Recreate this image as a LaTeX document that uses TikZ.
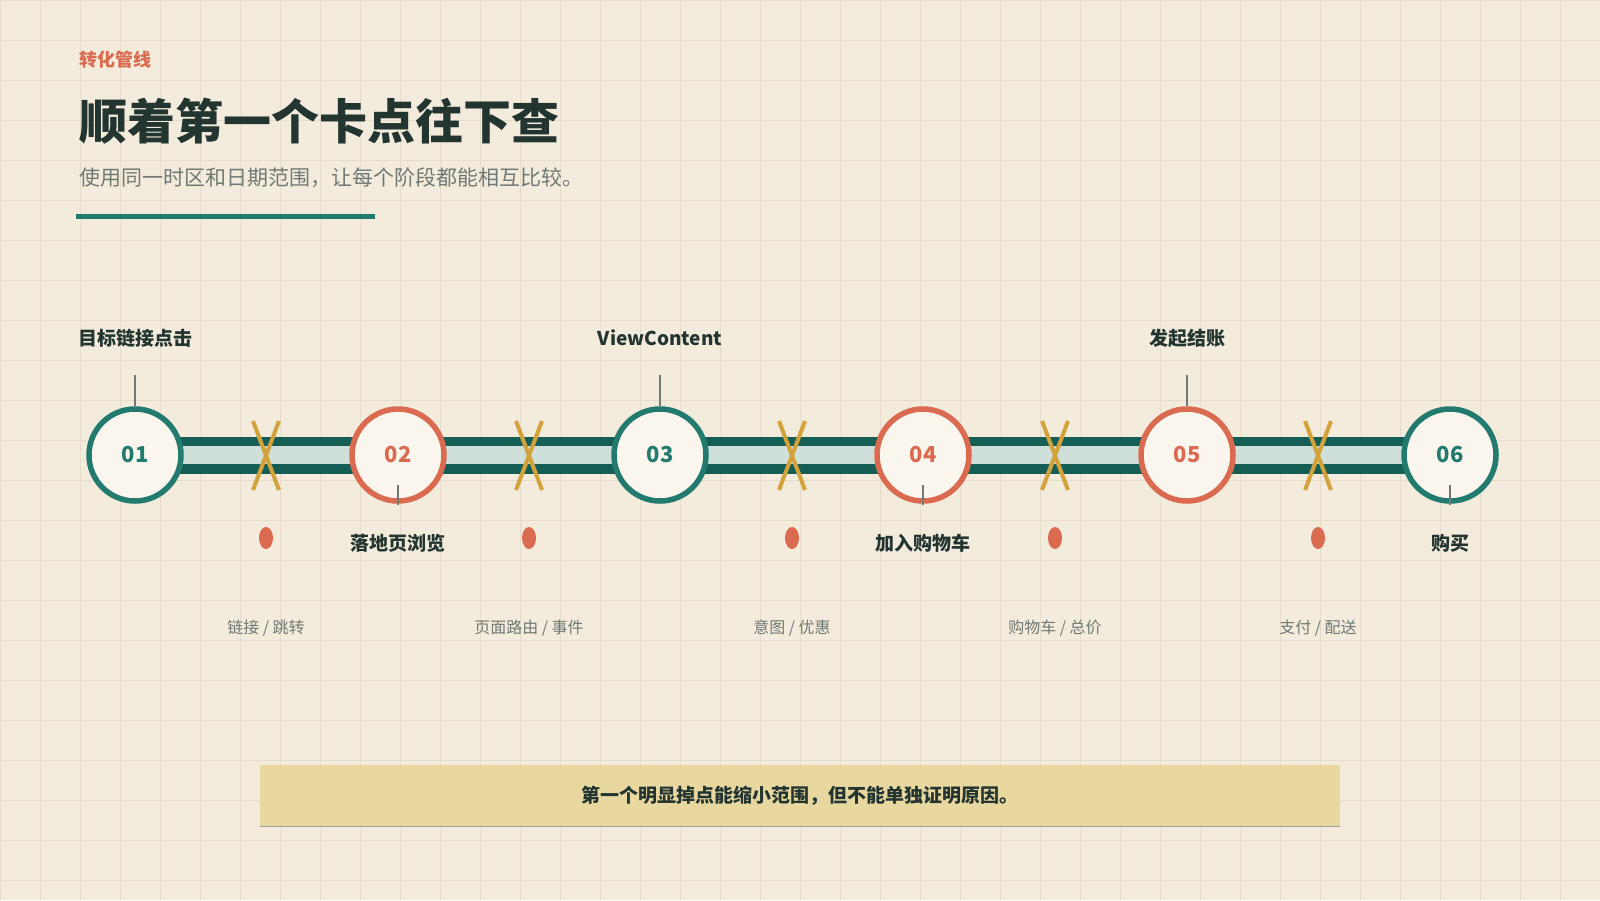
\documentclass[tikz,border=0pt]{standalone}
\usepackage{fontspec}
\setmainfont{Noto Sans CJK SC}
\definecolor{bg}{HTML}{F3EBDC}
\definecolor{gridc}{HTML}{E5DCCB}
\definecolor{teal}{HTML}{237A6E}
\definecolor{dteal}{HTML}{145E55}
\definecolor{lteal}{HTML}{CFE0DA}
\definecolor{oran}{HTML}{DB6B50}
\definecolor{gold}{HTML}{D4A23A}
\definecolor{cfill}{HTML}{FAF6EE}
\definecolor{boxc}{HTML}{E9D7A0}
\definecolor{dtext}{HTML}{233530}
\definecolor{gtext}{HTML}{6F7A75}
\begin{document}
\begin{tikzpicture}[x=1pt,y=-1pt,
  stage/.style={circle,draw=#1,line width=5.5pt,fill=cfill,minimum size=92pt,inner sep=0pt,text=#1,font=\fontsize{22}{22}\selectfont\bfseries},
  lab/.style={text=dtext,font=\fontsize{19}{19}\selectfont\bfseries},
  sub/.style={text=gtext,font=\fontsize{16}{16}\selectfont},
  tick/.style={draw=gtext,line width=1.2pt}]
\fill[bg] (0,0) rectangle (1600,900);
\useasboundingbox (0,0) rectangle (1600,900);
\foreach \i in {0,40,...,1600} \draw[gridc,line width=1pt] (\i,0)--(\i,900);
\foreach \j in {0,40,...,900} \draw[gridc,line width=1pt] (0,\j)--(1600,\j);
\node[anchor=west,text=oran,font=\fontsize{18}{18}\selectfont\bfseries] (kick) at (76,60) {转化管线};
\node[anchor=west,text=dtext,font=\fontsize{48}{48}\selectfont\bfseries] (title) at (76,121) {顺着第一个卡点往下查};
\node[anchor=west,text=gtext,font=\fontsize{21}{21}\selectfont] (subt) at (76,178) {使用同一时区和日期范围，让每个阶段都能相互比较。};
\coordinate (ul1) at (76,216); \coordinate (ul2) at (375,216);
\draw[teal,line width=5pt] (ul1)--(ul2);
% track
\coordinate (t1) at (135,455); \coordinate (t6) at (1450,455);
\draw[dteal,line width=37pt] (t1)--(t6);
\draw[lteal,line width=18pt] (t1)--(t6);
\foreach \n/\x/\c in {1/135/teal,2/398/oran,3/660/teal,4/923/oran,5/1187/oran,6/1450/teal}
  \node[stage=\c] (s\n) at (\x,455) {0\n};
% x marks, dots, sublabels
\foreach \m/\x/\t in {1/266/{链接 / 跳转},2/529/{页面路由 / 事件},3/792/{意图 / 优惠},4/1055/{购物车 / 总价},5/1318/{支付 / 配送}}{
  \coordinate (xa\m) at (\x-13,421); \coordinate (xb\m) at (\x+13,490);
  \coordinate (xc\m) at (\x+13,421); \coordinate (xd\m) at (\x-13,490);
  \draw[gold,line width=4pt] (xa\m)--(xb\m);
  \draw[gold,line width=4pt] (xc\m)--(xd\m);
  \fill[oran] (\x,538) ellipse (7 and 11);
  \node[sub] (sl\m) at (\x,628) {\t};
}
% top labels
\foreach \n/\x/\t in {1/135/目标链接点击,3/660/ViewContent,5/1187/发起结账}{
  \node[lab] (L\n) at (\x,338) {\t};
  \coordinate (k\n) at (\x,375);
  \draw[tick] (k\n)--(s\n.north);
}
\foreach \n/\x/\t in {2/398/落地页浏览,4/923/加入购物车,6/1450/购买}{
  \node[lab] (L\n) at (\x,543) {\t};
  \coordinate (k\n) at (\x,485);
  \coordinate (j\n) at (\x,505);
  \draw[tick] (k\n)--(j\n);
}
% note box
\node[fill=boxc,minimum width=1080pt,minimum height=61pt,inner sep=0pt,text=dtext,font=\fontsize{19}{19}\selectfont\bfseries] (note) at (800,795.5) {第一个明显掉点能缩小范围，但不能单独证明原因。};
\draw[gtext!70,line width=1.2pt] (note.south west)--(note.south east);
\end{tikzpicture}
\end{document}
